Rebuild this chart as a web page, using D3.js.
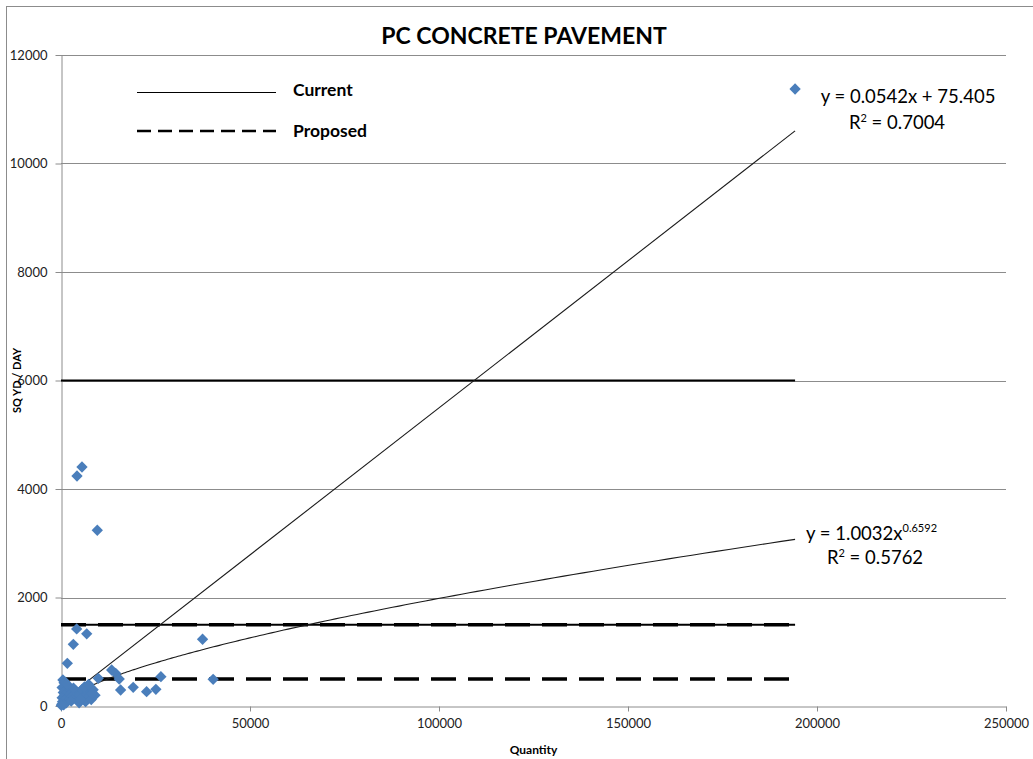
<!DOCTYPE html>
<html>
<head>
<meta charset="utf-8">
<script src="https://cdn.jsdelivr.net/npm/d3@7"></script>
<style>
  html, body { margin: 0; padding: 0; background: #fff; }
  svg { display: block; font-family: Lato, "Open Sans", sans-serif; }
</style>
</head>
<body>
<svg id="chart" width="1033" height="759"></svg>
<script>
// Observed jobs: quantity placed vs. production rate (SQ YD / DAY)
const quantity = [
  194200, 4230, 5550, 9600, 4150, 6800, 3260, 1670, 37450, 13400,
  14460, 15400, 15770, 19100, 22640, 25100, 26430, 40250, 9860,
  500, 800, 1200, 300, 1500, 600, 2000, 900, 300, 1800,
  2500, 400, 1000, 200, 1400, 2200, 3000, 700, 100, 1100,
  3500, 4000, 4500, 5000, 5500, 6000, 6500, 7000, 7500, 8000,
  8500, 9000, 6200, 7300, 4800, 2700, 3300, 5200, 8200, 1600
];
const sqydPerDay = [
  11373, 4240, 4405, 3240, 1420, 1330, 1137, 787, 1230, 664,
  602, 498, 295, 345, 264, 308, 540, 492, 510,
  480, 430, 380, 340, 300, 250, 270, 200, 150, 160,
  220, 80, 100, 30, 60, 120, 180, 20, 10, 440,
  150, 250, 100, 200, 300, 150, 80, 250, 180, 120,
  300, 200, 350, 400, 60, 90, 330, 120, 230, 400
];

// Rate limits: current policy and proposed policy
const currentRates = [6000, 1500];
const proposedRates = [1500, 500];

// Fitted trendlines
const linearFit = [0.0542, 75.405];   // slope, intercept
const linearR2 = 0.7004;
const powerFit = [1.0032, 0.6592];    // coefficient, exponent
const powerR2 = 0.5762;

const xTicks = [0, 50000, 100000, 150000, 200000, 250000];
const yTicks = [0, 2000, 4000, 6000, 8000, 10000, 12000];

const svg = d3.select("#chart");
const margin = { left: 61, right: 27, top: 55, bottom: 53 };
const W = 1033, H = 759;

const x = d3.scaleLinear().domain([0, 250000]).range([margin.left, W - margin.right]);
const y = d3.scaleLinear().domain([0, 12000]).range([H - margin.bottom, margin.top]);

// outer chart frame
svg.append("rect")
  .attr("x", 6.5).attr("y", 6.5)
  .attr("width", 1040).attr("height", 770)
  .attr("fill", "none").attr("stroke", "#8c8c8c").attr("stroke-width", 1);

// title
svg.append("text")
  .attr("x", 524).attr("y", 44)
  .attr("text-anchor", "middle")
  .attr("font-weight", "bold").attr("font-size", 23)
  .attr("fill", "#000")
  .text("PC CONCRETE PAVEMENT");

// horizontal gridlines
svg.append("g")
  .selectAll("line").data(yTicks.filter(d => d > 0)).join("line")
  .attr("x1", x(0)).attr("x2", x(250000))
  .attr("y1", d => Math.round(y(d)) + 0.5).attr("y2", d => Math.round(y(d)) + 0.5)
  .attr("stroke", "#8c8c8c").attr("stroke-width", 1);

// y axis
const yAxis = svg.append("g")
  .attr("transform", `translate(${Math.round(x(0)) + 0.5},0)`)
  .call(d3.axisLeft(y).tickValues(yTicks).tickFormat(d3.format("d")).tickSize(6).tickSizeOuter(0));
yAxis.select(".domain").attr("stroke", "#8c8c8c");
yAxis.selectAll(".tick line").attr("stroke", "#8c8c8c");
yAxis.selectAll(".tick text")
  .attr("font-family", "Lato, sans-serif").attr("font-size", 13)
  .attr("fill", "#222").attr("x", -14);

// x axis
const xAxis = svg.append("g")
  .attr("transform", `translate(0,${Math.round(y(0)) + 0.5})`)
  .call(d3.axisBottom(x).tickValues(xTicks).tickFormat(d3.format("d")).tickSize(5).tickSizeOuter(0));
xAxis.select(".domain").attr("stroke", "#8c8c8c");
xAxis.selectAll(".tick line").attr("stroke", "#8c8c8c");
xAxis.selectAll(".tick text")
  .attr("font-family", "Lato, sans-serif").attr("font-size", 13)
  .attr("fill", "#222").attr("y", 12);

// axis titles
svg.append("text")
  .attr("x", x(125000)).attr("y", 754)
  .attr("text-anchor", "middle")
  .attr("font-weight", "bold").attr("font-size", 12)
  .text("Quantity");
svg.append("text")
  .attr("transform", `translate(21,${y(6000)}) rotate(-90)`)
  .attr("text-anchor", "middle")
  .attr("font-weight", "bold").attr("font-size", 11)
  .text("SQ YD / DAY");

const xMin = d3.min(quantity), xMax = d3.max(quantity);

// current rate limits (solid)
svg.append("g")
  .selectAll("line").data(currentRates).join("line")
  .attr("x1", x(0)).attr("x2", x(xMax))
  .attr("y1", d => y(d)).attr("y2", d => y(d))
  .attr("stroke", "#000").attr("stroke-width", 2);

// proposed rate limits (dashed)
svg.append("g")
  .selectAll("line").data(proposedRates).join("line")
  .attr("x1", x(0)).attr("x2", x(xMax))
  .attr("y1", d => y(d)).attr("y2", d => y(d))
  .attr("stroke", "#000").attr("stroke-width", 3.5)
  .attr("stroke-dasharray", "25,12");

// linear trendline
svg.append("line")
  .attr("x1", x(0)).attr("y1", y(linearFit[1]))
  .attr("x2", x(xMax)).attr("y2", y(linearFit[0] * xMax + linearFit[1]))
  .attr("stroke", "#1a1a1a").attr("stroke-width", 1.1);

// power trendline
const powerPts = d3.range(0, 401).map(i => {
  const q = xMin * Math.pow(xMax / xMin, i / 400);
  return [q, powerFit[0] * Math.pow(q, powerFit[1])];
});
svg.append("path")
  .datum(powerPts)
  .attr("d", d3.line().x(d => x(d[0])).y(d => y(d[1])))
  .attr("fill", "none").attr("stroke", "#1a1a1a").attr("stroke-width", 1.1);

// data points (diamonds)
const diamond = d3.symbol().type(d3.symbolSquare).size(64);
svg.append("g")
  .selectAll("path").data(quantity.map((q, i) => [q, sqydPerDay[i]])).join("path")
  .attr("d", diamond)
  .attr("transform", d => `translate(${x(d[0])},${y(d[1])}) rotate(45)`)
  .attr("fill", "#4a7ebb");

// legend
const legend = svg.append("g");
legend.append("line")
  .attr("x1", 137).attr("x2", 276).attr("y1", 92.5).attr("y2", 92.5)
  .attr("stroke", "#000").attr("stroke-width", 1);
legend.append("line")
  .attr("x1", 137).attr("x2", 276).attr("y1", 131).attr("y2", 131)
  .attr("stroke", "#000").attr("stroke-width", 2.5)
  .attr("stroke-dasharray", "14,7");
legend.append("text")
  .attr("x", 293).attr("y", 96)
  .attr("font-weight", "bold").attr("font-size", 17.5)
  .text("Current");
legend.append("text")
  .attr("x", 293).attr("y", 137)
  .attr("font-weight", "bold").attr("font-size", 17.5)
  .text("Proposed");

// trendline equations
const eq = svg.append("g").attr("font-size", 18.5).attr("fill", "#000");
eq.append("text")
  .attr("x", 908).attr("y", 103).attr("text-anchor", "middle")
  .text(`y = ${linearFit[0]}x + ${linearFit[1]}`);
const r1 = eq.append("text").attr("x", 897).attr("y", 129).attr("text-anchor", "middle");
r1.append("tspan").text("R");
r1.append("tspan").attr("font-size", 11).attr("dy", -7).text("2");
r1.append("tspan").attr("dy", 7).text(` = ${linearR2}`);

const e2 = eq.append("text").attr("x", 806).attr("y", 540);
e2.append("tspan").text(`y = ${powerFit[0]}x`);
e2.append("tspan").attr("font-size", 11).attr("dy", -8).text(powerFit[1]);
const r2 = eq.append("text").attr("x", 875).attr("y", 564).attr("text-anchor", "middle");
r2.append("tspan").text("R");
r2.append("tspan").attr("font-size", 11).attr("dy", -7).text("2");
r2.append("tspan").attr("dy", 7).text(` = ${powerR2}`);
</script>
</body>
</html>
